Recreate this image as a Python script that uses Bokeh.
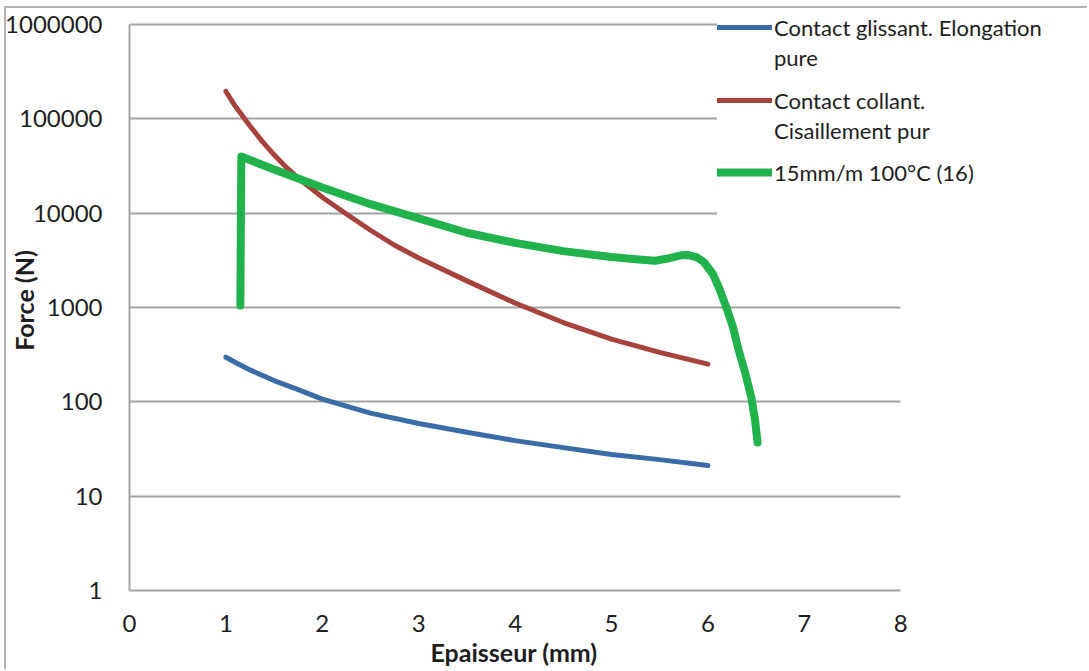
from bokeh.plotting import figure
from bokeh.models import (Range1d, FixedTicker, NumeralTickFormatter, Legend, LegendItem, Title)
from bokeh.embed import file_html
from bokeh.resources import INLINE

# ---- data ----
blue_x = [1.0, 1.1, 1.25, 1.5, 1.75, 2.0, 2.5, 3.0, 3.5, 4.0, 4.5, 5.0, 5.5, 6.0]
blue_y = [297, 261, 218, 168, 134.6, 107, 76, 59, 47.6, 38.8, 32.7, 27.7, 24.4, 21.1]

red_x = [1.0, 1.1, 1.25, 1.375, 1.5, 1.625, 1.75, 2.0, 2.25, 2.5, 2.75, 3.0, 3.5, 4.0, 4.5,
         5.0, 5.5, 6.0]
red_y = [195000, 135000, 84000, 58000, 41500, 30700, 23550, 14750, 9800, 6590, 4570, 3350,
         1915, 1115, 693, 462, 334, 251]

green_x = [1.15, 1.16, 1.5, 2.0, 2.5, 3.0, 3.5, 4.0, 4.5, 5.0, 5.25, 5.45, 5.6, 5.72, 5.8,
           5.88, 5.96, 6.05, 6.12, 6.19, 6.26, 6.32, 6.39, 6.45, 6.49, 6.515]
green_y = [1050, 39800, 29000, 18700, 12450, 8800, 6200, 4840, 3960, 3435, 3250, 3130, 3330,
           3580, 3600, 3430, 3020, 2280, 1580, 1010, 620, 350, 198, 112, 63, 37]

legend_lines = ["Contact glissant. Elongation", "pure",
                "Contact collant.", "Cisaillement pur",
                "15mm/m 100°C (16)"]

x_ticks = [0, 1, 2, 3, 4, 5, 6, 7, 8]
y_ticks = [1, 10, 100, 1000, 10000, 100000, 1000000]

FONT = "Lato"
GRID = "#a3a3a3"
TXT = "#1e1e1e"

X_END = 958 / 96.5            # frame is wider than the 0..8 axis so the legend is not clipped
Y_TOP = 10 ** (6 + 14 / 94.333)

p = figure(width=1083, height=663,
           min_border_left=122, min_border_right=3,
           min_border_top=2, min_border_bottom=81,
           y_axis_type="log",
           x_range=Range1d(0, X_END), y_range=Range1d(1, Y_TOP),
           output_backend="svg", toolbar_location=None)
p.outline_line_color = None
p.styles = {"margin-left": "4px", "margin-top": "6px",
            "border-left": "2px solid #b4b4b4", "border-top": "2px solid #b4b4b4"}

# axes
p.xaxis.ticker = FixedTicker(ticks=x_ticks, minor_ticks=[])
p.yaxis.ticker = FixedTicker(ticks=y_ticks, minor_ticks=[])
p.yaxis.formatter = NumeralTickFormatter(format="0")
p.xaxis.bounds = (x_ticks[0], x_ticks[-1])
p.yaxis.bounds = (y_ticks[0], y_ticks[-1])
for ax in (p.xaxis, p.yaxis):
    ax.axis_line_color = GRID
    ax.axis_line_width = 2
    ax.major_tick_line_color = None
    ax.minor_tick_line_color = None
    ax.major_label_text_font = FONT
    ax.major_label_text_font_size = "24px"
    ax.major_label_text_color = TXT
    ax.axis_label_text_font = FONT
    ax.axis_label_text_font_style = "bold"
    ax.axis_label_text_font_size = "25px"
    ax.axis_label_text_color = TXT
p.yaxis.axis_label = "Force (N)"
p.xaxis.major_label_standoff = 18
p.yaxis.major_label_standoff = 21
p.yaxis.axis_label_standoff = -37

xtitle = Title(text="Epaisseur (mm)", align="left", offset=301, standoff=0,
               text_font=FONT, text_font_size="25px", text_font_style="bold",
               text_color=TXT)
p.add_layout(xtitle, "below")

p.xgrid.grid_line_color = None
g = p.ygrid[0]
if hasattr(g, "cross_bounds"):
    g.grid_line_color = GRID
    g.grid_line_width = 2
    g.cross_bounds = (x_ticks[0], x_ticks[-1])
else:
    g.grid_line_color = None
    p.segment(x0=[x_ticks[0]] * len(y_ticks), x1=[x_ticks[-1]] * len(y_ticks),
              y0=y_ticks, y1=y_ticks, line_color=GRID, line_width=2)

# series
r_blue = p.line(blue_x, blue_y, line_color="#3a6ca8", line_width=5,
                line_cap="round", line_join="round")
r_red = p.line(red_x, red_y, line_color="#a8423d", line_width=5,
               line_cap="round", line_join="round")
r_green = p.line(green_x, green_y, line_color="#22b24c", line_width=8,
                 line_cap="round", line_join="round")
# invisible renderers used only for the continuation lines of the legend labels
r_d1 = p.line(blue_x[:1], blue_y[:1], line_alpha=0)
r_d2 = p.line(blue_x[:1], blue_y[:1], line_alpha=0)
r_d3 = p.line(blue_x[:1], blue_y[:1], line_alpha=0)


def make_legend(items, loc):
    lg = Legend(items=items, location=loc)
    lg.glyph_width = 55
    lg.glyph_height = 30
    lg.label_height = 30
    lg.label_standoff = 2
    lg.spacing = 0
    lg.padding = 10
    lg.margin = 0
    lg.border_line_color = None
    lg.background_fill_color = "white"
    lg.background_fill_alpha = 1
    lg.label_text_font = FONT
    lg.label_text_font_size = "22px"
    lg.label_text_color = TXT
    p.add_layout(lg, "center")
    return lg


make_legend([LegendItem(label=legend_lines[0], renderers=[r_blue]),
             LegendItem(label=legend_lines[1], renderers=[r_d1])], (588, 518))
make_legend([LegendItem(label=legend_lines[2], renderers=[r_red]),
             LegendItem(label=legend_lines[3], renderers=[r_d2])], (588, 445))
make_legend([LegendItem(label=legend_lines[4], renderers=[r_green]),
             LegendItem(label=" ", renderers=[r_d3])], (588, 373))

open("out.html", "w").write(file_html(p, INLINE))
